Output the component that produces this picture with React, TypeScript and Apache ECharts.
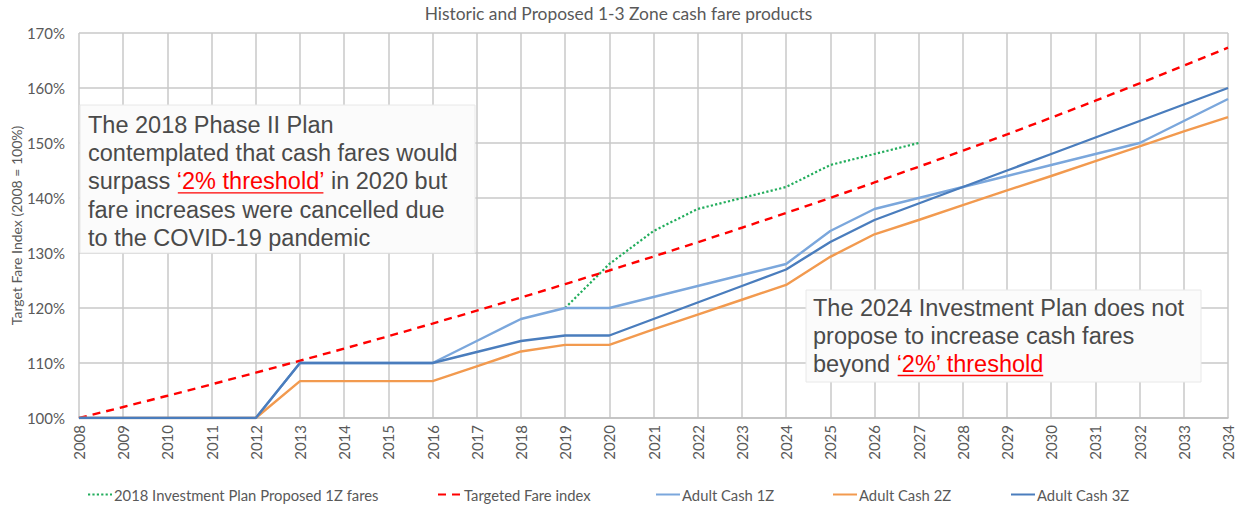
import React, { useEffect, useRef } from "react";
import * as echarts from "echarts";

const years = [
  "2008", "2009", "2010", "2011", "2012", "2013", "2014", "2015", "2016",
  "2017", "2018", "2019", "2020", "2021", "2022", "2023", "2024", "2025",
  "2026", "2027", "2028", "2029", "2030", "2031", "2032", "2033", "2034",
];

const plan2018Proposed1Z = [
  null, null, null, null, null, null, null, null, null, null, null,
  120, 128, 134, 138, 140, 142, 146, 148, 150,
  null, null, null, null, null, null, null,
];

const targetedFareIndex = [
  100, 102, 104.04, 106.12, 108.24, 110.41, 112.62, 114.87, 117.17, 119.51,
  121.9, 124.34, 126.82, 129.36, 131.95, 134.59, 137.28, 140.02, 142.82,
  145.68, 148.59, 151.57, 154.6, 157.69, 160.84, 164.06, 167.34,
];

const adultCash1Z = [
  100, 100, 100, 100, 100, 110, 110, 110, 110, 114, 118, 120, 120, 122, 124,
  126, 128, 134, 138, 140, 142, 144, 146, 148, 150, 154, 158,
];

const adultCash2Z = [
  100, 100, 100, 100, 100, 106.7, 106.7, 106.7, 106.7, 109.4, 112.1, 113.3,
  113.3, 116.1, 118.8, 121.5, 124.2, 129.3, 133.4, 136.0, 138.7, 141.4, 144.0,
  146.7, 149.4, 152.1, 154.7,
];

const adultCash3Z = [
  100, 100, 100, 100, 100, 110, 110, 110, 110, 112, 114, 115, 115, 118, 121,
  124, 127, 132, 136, 139, 142, 145, 148, 151, 154, 157, 160,
];

const seriesNames = [
  "2018 Investment Plan Proposed 1Z fares",
  "Targeted Fare index",
  "Adult Cash 1Z",
  "Adult Cash 2Z",
  "Adult Cash 3Z",
];

const yTicks = { min: 100, max: 170, interval: 10 };

const box1Lines = [
  [{ t: "The 2018 Phase II Plan" }],
  [{ t: "contemplated that cash fares would" }],
  [{ t: "surpass " }, { t: "\u20182% threshold\u2019", red: true }, { t: " in 2020 but" }],
  [{ t: "fare increases were cancelled due" }],
  [{ t: "to the COVID-19 pandemic" }],
];

const box2Lines = [
  [{ t: "The 2024 Investment Plan does not" }],
  [{ t: "propose to increase cash fares" }],
  [{ t: "beyond " }, { t: "\u20182%\u2019 threshold", red: true }],
];

const AXIS_FONT = "Lato, 'Open Sans', sans-serif";
const NOTE_FONT_FAMILY = "'Liberation Sans', Arial, sans-serif";
const NOTE_FONT_SIZE = 23.5;
const NOTE_FONT = `${NOTE_FONT_SIZE}px ${NOTE_FONT_FAMILY}`;
const NOTE_Z = 100;

function measure(text: string): number {
  const c = document.createElement("canvas");
  const ctx = c.getContext("2d");
  if (!ctx) return text.length * NOTE_FONT_SIZE * 0.5;
  ctx.font = NOTE_FONT;
  return ctx.measureText(text).width;
}

function buildNote(
  lines: { t: string; red?: boolean }[][],
  box: { x: number; y: number; w: number; h: number },
  textX: number,
  firstY: number,
  lineGap: number
) {
  const children: any[] = [
    {
      type: "rect",
      z: NOTE_Z,
      shape: { x: box.x, y: box.y, width: box.w, height: box.h },
      style: { fill: "#fbfbfb", stroke: "#e8e8e8", lineWidth: 1 },
    },
  ];
  lines.forEach((segs, i) => {
    let x = textX;
    const y = firstY + i * lineGap;
    segs.forEach((s) => {
      const w = measure(s.t);
      children.push({
        type: "text",
        z: NOTE_Z + 1,
        x,
        y,
        style: {
          text: s.t,
          font: NOTE_FONT,
          fill: s.red ? "#ff0000" : "#4a4a4a",
          verticalAlign: "middle",
          align: "left",
        },
      });
      if (s.red) {
        children.push({
          type: "line",
          z: NOTE_Z + 1,
          shape: { x1: x + 1, y1: y + 11.5, x2: x + w - 1, y2: y + 11.5 },
          style: { stroke: "#ff0000", lineWidth: 1.3 },
        });
      }
      x += w;
    });
  });
  return children;
}

export default function App() {
  const ref = useRef<HTMLDivElement>(null);

  useEffect(() => {
    if (!ref.current) return;
    const chart = echarts.init(ref.current, undefined, { renderer: "svg" });

    const legendLefts = [87, 437, 655, 832, 1010];
    const legends = seriesNames.map((n, i) => ({
      data: [n],
      left: legendLefts[i],
      top: 487,
      padding: 0,
      itemWidth: 24,
      itemHeight: 14,
      itemStyle: { opacity: 0 },
      textStyle: { fontFamily: AXIS_FONT, fontSize: 14.8, color: "#595959", padding: [0, 0, 0, -3] },
    }));

    const option: any = {
      animation: false,
      backgroundColor: "#ffffff",
      title: {
        text: "Historic and Proposed 1-3 Zone cash fare products",
        left: "center",
        top: 0,
        textStyle: { fontFamily: AXIS_FONT, fontSize: 17.4, fontWeight: "normal", color: "#595959" },
      },
      legend: legends,
      grid: { left: 79, right: 9, top: 33, bottom: 89, containLabel: false, outerBoundsMode: "none" },
      xAxis: {
        type: "category",
        data: years,
        boundaryGap: false,
        axisLine: { show: true, lineStyle: { color: "#bfbfbf", width: 1.5 } },
        axisTick: { show: false },
        axisLabel: {
          interval: 0,
          rotate: 90,
          margin: 7,
          fontFamily: AXIS_FONT,
          fontSize: 15,
          color: "#595959",
        },
        splitLine: { show: true, interval: 0, lineStyle: { color: "#c8c8c8", width: 1.5 } },
      },
      yAxis: {
        type: "value",
        min: yTicks.min,
        max: yTicks.max,
        interval: yTicks.interval,
        name: "Target Fare Index (2008 = 100%)",
        nameLocation: "middle",
        nameGap: 56,
        nameMoveOverlap: false,
        nameTextStyle: { fontFamily: AXIS_FONT, fontSize: 14, color: "#595959" },
        axisLine: { show: false },
        axisTick: { show: false },
        axisLabel: {
          formatter: "{value}%",
          margin: 14,
          fontFamily: AXIS_FONT,
          fontSize: 15,
          color: "#595959",
        },
        splitLine: { show: true, lineStyle: { color: "#c8c8c8", width: 1.5 } },
      },
      series: [
        {
          name: seriesNames[0],
          type: "line",
          data: plan2018Proposed1Z,
          symbol: "none",
          connectNulls: false,
          lineStyle: { color: "#22ad5c", width: 2.2, type: [2.2, 2.2] },
          itemStyle: { color: "#22ad5c" },
          z: 2,
        },
        {
          name: seriesNames[1],
          type: "line",
          data: targetedFareIndex,
          symbol: "none",
          lineStyle: { color: "#ff0000", width: 2.4, type: [8, 6] },
          itemStyle: { color: "#ff0000" },
          z: 3,
        },
        {
          name: seriesNames[2],
          type: "line",
          data: adultCash1Z,
          symbol: "none",
          lineStyle: { color: "#7ba7dc", width: 2.4 },
          itemStyle: { color: "#7ba7dc" },
          z: 4,
        },
        {
          name: seriesNames[3],
          type: "line",
          data: adultCash2Z,
          symbol: "none",
          lineStyle: { color: "#f29a4f", width: 2.4 },
          itemStyle: { color: "#f29a4f" },
          z: 5,
        },
        {
          name: seriesNames[4],
          type: "line",
          data: adultCash3Z,
          symbol: "none",
          lineStyle: { color: "#4a7dbd", width: 2.4 },
          itemStyle: { color: "#4a7dbd" },
          z: 6,
        },
      ],
      graphic: {
        elements: [
          ...buildNote(box1Lines, { x: 80, y: 105, w: 395, h: 148 }, 88, 125, 28.2),
          ...buildNote(box2Lines, { x: 806, y: 290, w: 395, h: 92 }, 813, 308, 28),
        ],
      },
    };

    chart.setOption(option);
    return () => chart.dispose();
  }, []);

  return (
    <div
      ref={ref}
      style={{ position: "fixed", left: 0, top: 0, width: 1237, height: 507, background: "#fff" }}
    />
  );
}
